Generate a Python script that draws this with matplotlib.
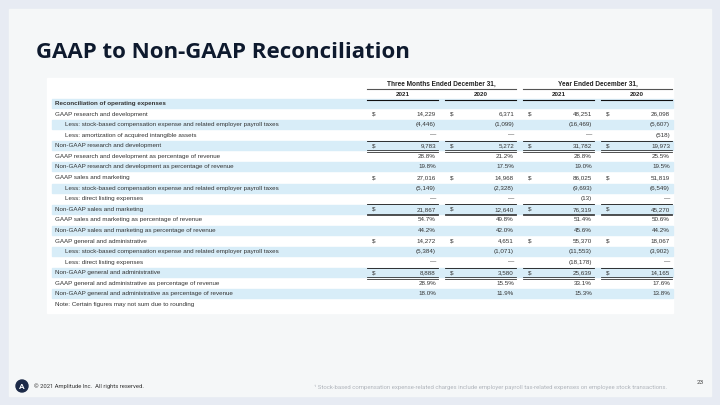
import matplotlib
matplotlib.use("Agg")
from matplotlib import pyplot as plt
from matplotlib.patches import Rectangle, Circle


# Table content

row_labels = [
    "Reconciliation of operating expenses",
    "GAAP research and development",
    "Less: stock-based compensation expense and related employer payroll taxes",
    "Less: amortization of acquired intangible assets",
    "Non-GAAP research and development",
    "GAAP research and development as percentage of revenue",
    "Non-GAAP research and development as percentage of revenue",
    "GAAP sales and marketing",
    "Less: stock-based compensation expense and related employer payroll taxes",
    "Less: direct listing expenses",
    "Non-GAAP sales and marketing",
    "GAAP sales and marketing as percentage of revenue",
    "Non-GAAP sales and marketing as percentage of revenue",
    "GAAP general and administrative",
    "Less: stock-based compensation expense and related employer payroll taxes",
    "Less: direct listing expenses",
    "Non-GAAP general and administrative",
    "GAAP general and administrative as percentage of revenue",
    "Non-GAAP general and administrative as percentage of revenue",
    "Note: Certain figures may not sum due to rounding",
]

q4_2021 = [None, 14229, -4446, 0, 9783, 28.8, 19.8, 27016, -5149, 0, 21867,
           54.7, 44.2, 14272, -5384, 0, 8888, 28.9, 18.0, None]
q4_2020 = [None, 6371, -1099, 0, 5272, 21.2, 17.5, 14968, -2328, 0, 12640,
           49.8, 42.0, 4651, -1071, 0, 3580, 15.5, 11.9, None]
fy_2021 = [None, 48251, -16469, 0, 31782, 28.8, 19.0, 86025, -9693, -13, 76319,
           51.4, 45.6, 55370, -11553, -18178, 25639, 33.1, 15.3, None]
fy_2020 = [None, 26098, -5607, -518, 19973, 25.5, 19.5, 51819, -6549, 0, 45270,
           50.6, 44.2, 18067, -3902, 0, 14165, 17.6, 13.8, None]

columns = [q4_2021, q4_2020, fy_2021, fy_2020]
column_years = ["2021", "2020", "2021", "2020"]
period_headers = ["Three Months Ended December 31,", "Year Ended December 31,"]

title = "GAAP to Non-GAAP Reconciliation"
copyright_text = "\u00a9 2021 Amplitude Inc.  All rights reserved."
footnote = ("\u00b9 Stock-based compensation expense-related charges include employer "
            "payroll tax-related expenses on employee stock transactions.")
page_number = "23"


def fmt(label, v):
    if v is None:
        return ""
    if "percentage" in label:
        return f"{v:.1f}%"
    if v == 0:
        return "\u2014"
    if v < 0:
        return f"({-v:,})"
    return f"{v:,}"


def has_dollar(label):
    return (label.startswith("GAAP") or label.startswith("Non-GAAP")) and "percentage" not in label


def is_total(label):
    return label.startswith("Non-GAAP") and "percentage" not in label


# Figure in pixel coordinates

fig = plt.figure(figsize=(7.2, 4.05), dpi=100)
fig.patch.set_facecolor("#e7ebf3")
ax = fig.add_axes([0, 0, 1, 1])
ax.set_xlim(0, 720)
ax.set_ylim(405, 0)
ax.axis("off")

ax.add_patch(Rectangle((9, 9), 702, 387, color="#f5f7f8", zorder=0))
ax.add_patch(Rectangle((47, 78), 626, 235, color="white", zorder=1))

ax.text(36, 53, title, fontsize=16, fontweight="bold", family="Open Sans",
        color="#0e1a2e", va="center", ha="left")

txt = "#333333"
sans = "Liberation Sans"
fs = 4.5

group_x = [367, 445, 523, 601]
group_w = 71

# headers
for k, h in enumerate(period_headers):
    x0 = group_x[2 * k]
    x1 = group_x[2 * k + 1] + group_w
    ax.text((x0 + x1) / 2, 84, h, fontsize=4.7, fontweight="bold", family=sans,
            color="#222222", ha="center", va="center", zorder=3)
    ax.plot([x0, x1], [88.5, 88.5], color="#555555", lw=0.8, zorder=3)
for gx, yr in zip(group_x, column_years):
    ax.text(gx + group_w / 2, 94.5, yr, fontsize=4.5, fontweight="bold", family=sans,
            color="#222222", ha="center", va="center", zorder=3)
    ax.plot([gx, gx + group_w], [99.5, 99.5], color="#111111", lw=0.8, zorder=3)

# rows
y0 = 103.5
pitch = 10.58
for i, label in enumerate(row_labels):
    y = y0 + i * pitch
    if i % 2 == 0 and i < len(row_labels) - 1:
        ax.add_patch(Rectangle((52, y - 4.5), 621, 9, color="#d8edf8", zorder=2))
    indent = 65 if label.startswith("Less:") else 55
    weight = "bold" if i == 0 else "normal"
    ax.text(indent, y, label, fontsize=fs, family=sans, fontweight=weight,
            color=txt, ha="left", va="center", zorder=3)
    for gx, col in zip(group_x, columns):
        s = fmt(label, col[i])
        if not s:
            continue
        ax.text(gx + group_w - 2, y, s, fontsize=fs, family=sans, color=txt,
                ha="right", va="center", zorder=3)
        if has_dollar(label):
            ax.text(gx + 5, y, "$", fontsize=fs, family=sans, color=txt,
                    ha="left", va="center", zorder=3)
    if is_total(label):
        for gx in group_x:
            ya = y - pitch / 2 + 0.3
            ax.plot([gx, gx + group_w], [ya, ya], color="#111111", lw=0.6, zorder=3)
            yb = y + 4.6
            ax.plot([gx, gx + group_w], [yb, yb], color="#333333", lw=0.6, zorder=3)
            ax.plot([gx, gx + group_w], [yb + 1.3, yb + 1.3], color="#333333", lw=0.6, zorder=3)

# footer
ax.add_patch(Circle((22, 386), 6, color="#1c2a48", zorder=3))
ax.text(22, 386.5, "A", fontsize=6, color="white", fontweight="bold", family="Roboto",
        ha="center", va="center", zorder=4)
ax.text(34, 386.5, copyright_text, fontsize=4.2, family="Roboto", color="#333333",
        ha="left", va="center")
ax.text(667, 387, footnote, fontsize=4.3, family="Roboto", color="#b0b5bc",
        ha="right", va="center")
ax.text(700, 382, page_number, fontsize=4.6, family="Roboto", color="#444444",
        ha="center", va="center")

fig.savefig("out.png", dpi=100, facecolor=fig.get_facecolor())
